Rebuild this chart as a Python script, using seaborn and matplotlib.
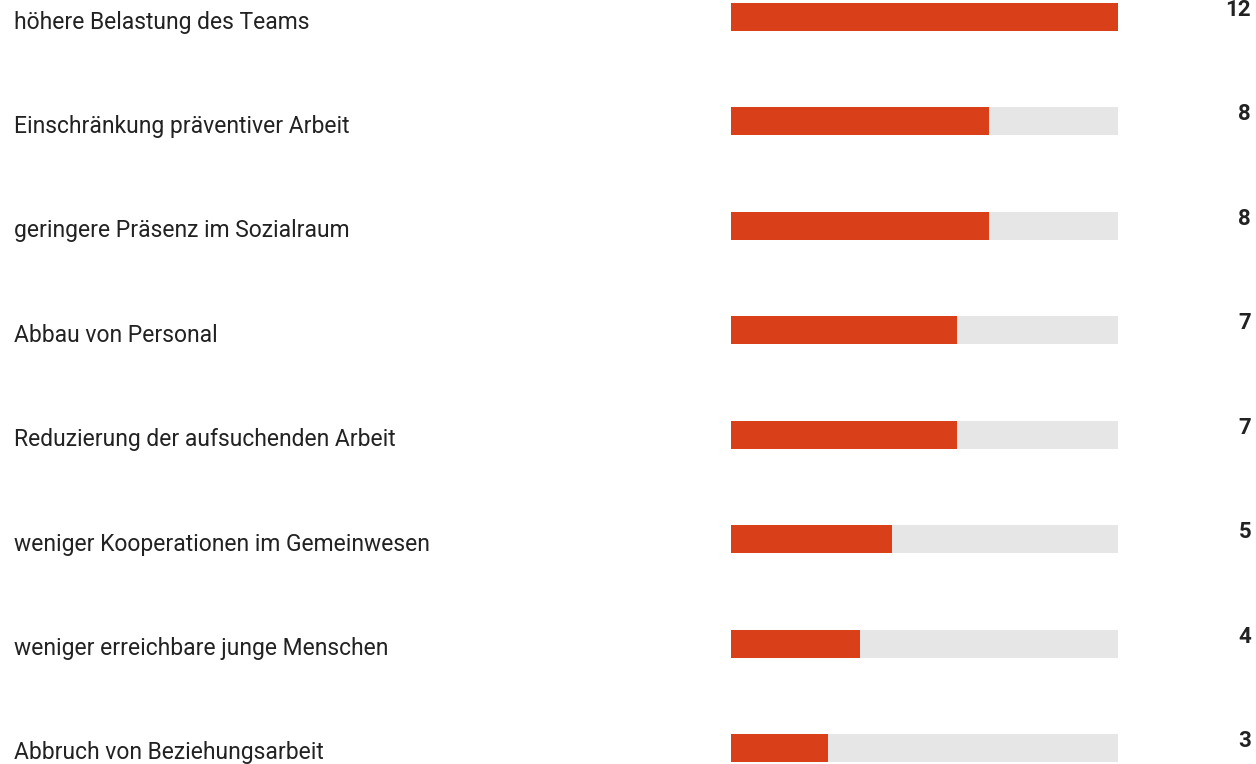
import numpy as np
import pandas as pd
import seaborn as sns
import matplotlib.pyplot as plt
import matplotlib.transforms as mtransforms

labels = [
    "höhere Belastung des Teams",
    "Einschränkung präventiver Arbeit",
    "geringere Präsenz im Sozialraum",
    "Abbau von Personal",
    "Reduzierung der aufsuchenden Arbeit",
    "weniger Kooperationen im Gemeinwesen",
    "weniger erreichbare junge Menschen",
    "Abbruch von Beziehungsarbeit",
]
values = [12, 8, 8, 7, 7, 5, 4, 3]
max_value = 12

RED = "#d9401a"
GREY = "#e6e6e6"
TEXT = "#222222"

sns.set_theme(style="white")
plt.rcParams['font.family'] = ['Roboto', 'DejaVu Sans']

df = pd.DataFrame({"label": labels, "value": values, "total": [max_value] * len(values)})

W, H = 1256, 764
fig = plt.figure(figsize=(W / 100, H / 100), dpi=100)
ax = fig.add_axes([0, 0, 1, 1])

# pixel geometry of the reference
bar_x0, bar_x1 = 731, 1118
first_c, last_c = 17, 748
step = (last_c - first_c) / (len(labels) - 1)
bar_h = 28 / step

sns.barplot(data=df, x="total", y="label", color=GREY, width=bar_h,
            saturation=1, ax=ax, orient="h", linewidth=0)
sns.barplot(data=df, x="value", y="label", color=RED, width=bar_h,
            saturation=1, ax=ax, orient="h", linewidth=0)

px = max_value / (bar_x1 - bar_x0)
ax.set_xlim(-bar_x0 * px, (W - bar_x0) * px)
ax.set_ylim(len(labels) - 1 + (H - last_c) / step, -first_c / step)
ax.set_axis_off()

trans = mtransforms.blended_transform_factory(fig.transFigure, ax.transData)
for i, (lab, val) in enumerate(zip(labels, values)):
    ax.text(14 / W, i + 5 / step, lab, transform=trans, ha="left", va="center",
            fontsize=16.5, color=TEXT)
    ax.text(1251 / W, i - 7 / step, str(val), transform=trans, ha="right",
            va="center", fontsize=16, fontweight="bold", color=TEXT)

fig.savefig("out.png", dpi=100)
